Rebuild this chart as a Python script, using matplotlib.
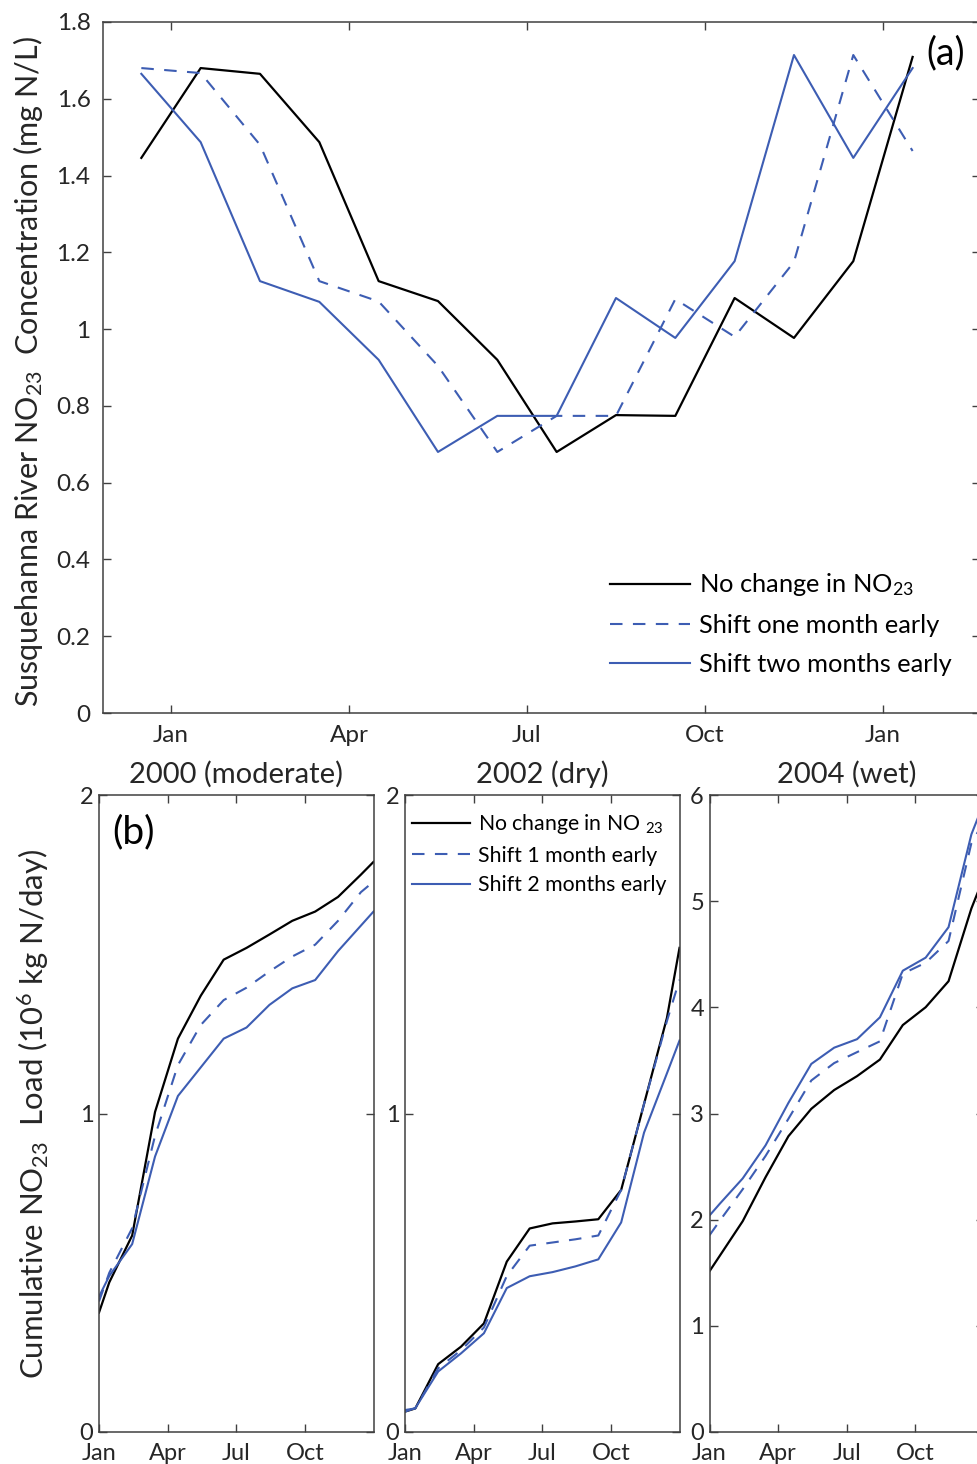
import matplotlib.pyplot as plt

plt.rcParams['font.family'] = ['Lato', 'DejaVu Sans']
plt.rcParams['mathtext.fontset'] = 'custom'
plt.rcParams['mathtext.rm'] = 'Lato'
plt.rcParams['mathtext.it'] = 'Lato:italic'
plt.rcParams['mathtext.bf'] = 'Lato:bold'

BLUE = '#3d5db3'
INK = '#262626'
SPINE = '#404040'

# (a) monthly NO23 concentration, mid-month (Dec of previous year .. Jan of next year)
conc_months = [-0.5, 0.5, 1.5, 2.5, 3.5, 4.5, 5.5, 6.5, 7.5, 8.5, 9.5, 10.5, 11.5, 12.5]
conc_base = [1.446, 1.68, 1.665, 1.487, 1.125, 1.073, 0.92, 0.68, 0.776, 0.774, 1.081, 0.977, 1.177, 1.709]
conc_shift1 = [1.68, 1.667, 1.48, 1.125, 1.072, 0.904, 0.68, 0.774, 0.774, 1.078, 0.98, 1.175, 1.714, 1.464]
conc_shift2 = [1.665, 1.487, 1.125, 1.071, 0.92, 0.68, 0.774, 0.774, 1.081, 0.977, 1.177, 1.714, 1.446, 1.68]
conc_ticks = [0, 3, 6, 9, 12]
conc_ticklabels = ['Jan', 'Apr', 'Jul', 'Oct', 'Jan']
conc_yticks = [0, 0.2, 0.4, 0.6, 0.8, 1, 1.2, 1.4, 1.6, 1.8]
conc_yticklabels = ['0', '0.2', '0.4', '0.6', '0.8', '1', '1.2', '1.4', '1.6', '1.8']

# (b) cumulative NO23 load (10^6 kg N/day)
load_months = [0, 0.45, 1.45, 2.45, 3.45, 4.45, 5.45, 6.45, 7.45, 8.45, 9.45, 10.45, 11.45, 12]
years = ['2000 (moderate)', '2002 (dry)', '2004 (wet)']
load_base_2000 = [0.375, 0.47, 0.617, 1.005, 1.235, 1.37, 1.483, 1.52, 1.562, 1.605, 1.634, 1.68, 1.75, 1.79]
load_shift1_2000 = [0.41, 0.5, 0.64, 0.93, 1.152, 1.278, 1.356, 1.395, 1.446, 1.493, 1.53, 1.605, 1.695, 1.728]
load_shift2_2000 = [0.425, 0.49, 0.59, 0.865, 1.055, 1.145, 1.235, 1.27, 1.341, 1.393, 1.419, 1.51, 1.59, 1.634]
load_base_2002 = [0.064, 0.074, 0.213, 0.268, 0.341, 0.535, 0.639, 0.655, 0.661, 0.668, 0.76, 1.03, 1.30, 1.52]
load_shift1_2002 = [0.069, 0.074, 0.2, 0.257, 0.328, 0.49, 0.585, 0.595, 0.605, 0.617, 0.76, 1.03, 1.29, 1.42]
load_shift2_2002 = [0.064, 0.075, 0.19, 0.247, 0.31, 0.452, 0.489, 0.502, 0.52, 0.542, 0.658, 0.94, 1.126, 1.229]
load_base_2004 = [1.514, 1.66, 1.985, 2.40, 2.786, 3.044, 3.221, 3.352, 3.508, 3.833, 4.001, 4.246, 4.932, 5.23]
load_shift1_2004 = [1.853, 1.99, 2.286, 2.6, 2.95, 3.311, 3.475, 3.578, 3.68, 4.317, 4.42, 4.625, 5.548, 5.75]
load_shift2_2004 = [2.039, 2.15, 2.388, 2.70, 3.10, 3.467, 3.62, 3.70, 3.906, 4.345, 4.468, 4.755, 5.63, 5.93]
load_ymax = [2, 2, 6]
load_xticks = [0, 3, 6, 9]
load_xticklabels = ['Jan', 'Apr', 'Jul', 'Oct']

W, H = 977, 1464
fig = plt.figure(figsize=(W / 100, H / 100), dpi=100)


def px_axes(l, t, r, b):
    return fig.add_axes([l / W, 1 - b / H, (r - l) / W, (b - t) / H])


def style(ax, size):
    for s in ax.spines.values():
        s.set_color(SPINE)
        s.set_linewidth(1.1)
    ax.tick_params(direction='in', length=6, width=1, color=SPINE,
                   top=True, right=True, labelsize=size, labelcolor=INK)


# ---- (a)
ax = px_axes(103, 22, 980, 713)
x_per_month = 59.33
ax.set_xlim((103 - 171) / x_per_month, (980 - 171) / x_per_month)
ax.set_ylim(0, 1.8)
ax.plot(conc_months, conc_base, color='black', lw=1.6, label='No change in NO$_{23}$')
ax.plot(conc_months, conc_shift1, color=BLUE, lw=1.5, dashes=(6, 5), label='Shift one month early')
ax.plot(conc_months, conc_shift2, color=BLUE, lw=1.5, label='Shift two months early')
ax.set_xticks(conc_ticks)
ax.set_xticklabels(conc_ticklabels)
ax.set_yticks(conc_yticks)
ax.set_yticklabels(conc_yticklabels)
style(ax, 17.5)
ax.tick_params(axis='x', pad=9)
ax.tick_params(axis='y', pad=9)
ax.legend(loc='lower left', bbox_to_anchor=((610 - 103) / 877, (713 - 676) / 691),
          frameon=False, fontsize=18.3, borderpad=0, borderaxespad=0,
          handlelength=3.15, handletextpad=0.35, labelspacing=0.62)
ax.text(946, 1464 - 53, '(a)', transform=None, fontsize=27, ha='center', va='center', color='black')

fig.text(28 / W, 1 - 372 / H, 'Susquehanna River NO$_{23}$  Concentration (mg N/L)',
         rotation=90, ha='center', va='center', fontsize=22, color=INK)

# ---- (b)
lefts = [99, 405, 709.5]
series = [(load_base_2000, load_shift1_2000, load_shift2_2000),
          (load_base_2002, load_shift1_2002, load_shift2_2002),
          (load_base_2004, load_shift1_2004, load_shift2_2004)]
for i, left in enumerate(lefts):
    ax = px_axes(left, 795, left + 274.5, 1432)
    base, s1, s2 = series[i]
    ax.plot(load_months, base, color='black', lw=1.6, label='No change in NO $_{23}$')
    ax.plot(load_months, s1, color=BLUE, lw=1.5, dashes=(6, 5), label='Shift 1 month early')
    ax.plot(load_months, s2, color=BLUE, lw=1.5, label='Shift 2 months early')
    ax.set_xlim(0, 12)
    ax.set_ylim(0, load_ymax[i])
    ax.set_xticks(load_xticks)
    ax.set_xticklabels(load_xticklabels)
    ax.set_yticks(range(0, load_ymax[i] + 1))
    style(ax, 17)
    ax.tick_params(axis='x', pad=8)
    ax.tick_params(axis='y', pad=4)
    ax.set_title(years[i], fontsize=21, color=INK, pad=9)
    if i == 1:
        ax.legend(loc='upper left', bbox_to_anchor=(0.025, 0.973), frameon=False,
                  fontsize=15.3, borderpad=0, borderaxespad=0,
                  handlelength=2.73, handletextpad=0.4, labelspacing=0.45)

fig.text(133 / W, 1 - 832 / H, '(b)', fontsize=28, ha='center', va='center', color='black')
fig.text(33 / W, 1 - 1114 / H, 'Cumulative NO$_{23}$  Load (10$^6$ kg N/day)',
         rotation=90, ha='center', va='center', fontsize=22.4, color=INK)

fig.savefig('out.png', dpi=100)
